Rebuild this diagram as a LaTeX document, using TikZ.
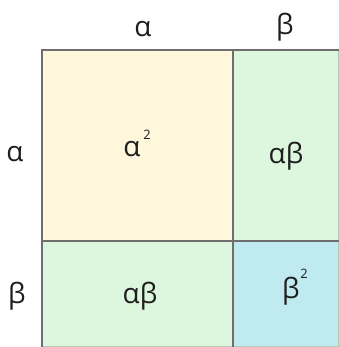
\documentclass[tikz,border=0pt]{standalone}
\usepackage{fontspec}
\setmainfont{Open Sans}
\definecolor{cream}{HTML}{FEF7DC}
\definecolor{mint}{HTML}{DCF7DE}
\definecolor{sky}{HTML}{BFEAF0}
\definecolor{edge}{HTML}{6E6E6E}
\definecolor{faint}{HTML}{B8C8B8}
\definecolor{ink}{HTML}{1E1E1E}
\begin{document}
\begin{tikzpicture}[x=1bp,y=-1bp,
  cell/.style={draw=edge,line width=1.2bp},
  lbl/.style={text=ink,font=\fontsize{28}{30}\selectfont,inner sep=0pt},
  sup/.style={text=ink,font=\fontsize{13}{15}\selectfont,inner sep=0pt}]
\useasboundingbox (0,0) rectangle (339,347);
\begin{scope}
\clip (0,0) rectangle (339,347);
\fill[cream] (42,50) rectangle (233,241);
\fill[mint] (233,50) rectangle (339,241);
\fill[mint] (42,241) rectangle (233,347);
\fill[sky] (233,241) rectangle (339,347);
\draw[faint,line width=1bp] (338.5,50) -- (338.5,346.5) -- (42,346.5);
\draw[cell] (339,50) -- (42,50) -- (42,347);
\draw[cell] (233,50) -- (233,347);
\draw[cell] (42,241) -- (339,241);
\end{scope}
\node[lbl] (ta) at (143,29) {α};
\node[lbl] (tb) at (285,27) {β};
\node[lbl] (la) at (15,154) {α};
\node[lbl] (lb) at (17,296) {β};
\node[lbl] (c1) at (132,149) {α};
\node[sup] (c1s) at (147,135) {2};
\node[lbl] (c2) at (286,156) {αβ};
\node[lbl] (c3) at (140,296) {αβ};
\node[lbl] (c4) at (291,291) {β};
\node[sup] (c4s) at (304,274) {2};
\end{tikzpicture}
\end{document}
